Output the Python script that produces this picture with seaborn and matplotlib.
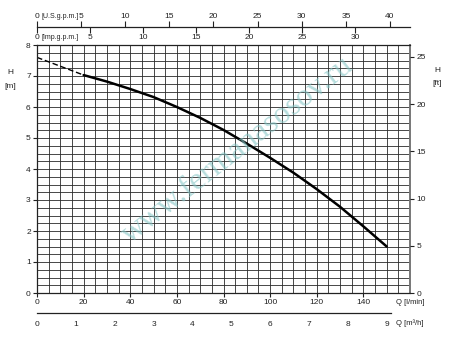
import matplotlib
matplotlib.use("Agg")
import matplotlib.pyplot as plt
import matplotlib.transforms as mtransforms
from matplotlib.ticker import MultipleLocator
import seaborn as sns
import pandas as pd

# ---- data ----
q_solid = [20, 30, 40, 50, 60, 70, 80, 90, 100, 110, 120, 130, 140, 150]
h_solid = [7.03, 6.82, 6.58, 6.32, 6.0, 5.65, 5.26, 4.82, 4.36, 3.88, 3.35, 2.78, 2.15, 1.5]
q_dash = [0, 20]
h_dash = [7.6, 7.03]

q_ticks = [0, 20, 40, 60, 80, 100, 120, 140]
h_ticks = [0, 1, 2, 3, 4, 5, 6, 7, 8]
ft_ticks = [0, 5, 10, 15, 20, 25]
us_ticks = [0, 5, 10, 15, 20, 25, 30, 35, 40]
imp_ticks = [0, 5, 10, 15, 20, 25, 30]
m3h_ticks = [0, 1, 2, 3, 4, 5, 6, 7, 8, 9]

US_GAL = 3.78541
IMP_GAL = 4.54609
FT = 0.3048

sns.set_style("white")
plt.rcParams['font.family'] = ['Liberation Sans', 'DejaVu Sans']
FS = 6
FS_S = 5

W_PX, H_PX = 450, 339
fig = plt.figure(figsize=(W_PX / 100, H_PX / 100), dpi=100)

def fx(px):
    return px / W_PX

def fy(py):
    return 1 - py / H_PX

L, R, T, B = 37, 410, 45, 293
ax = fig.add_axes([fx(L), fy(B), fx(R - L), (B - T) / H_PX])
ax.set_xlim(0, 160)
ax.set_ylim(0, 8)
ax.set_xticks(q_ticks)
ax.set_yticks(h_ticks)
ax.xaxis.set_minor_locator(MultipleLocator(5))
ax.yaxis.set_minor_locator(MultipleLocator(0.25))
ax.grid(which='both', color='#2a2a2a', lw=0.6)
ax.set_axisbelow(True)
ax.tick_params(which='major', direction='out', length=3, width=0.8, pad=1.5,
               labelsize=FS, colors='#222222', bottom=True, left=True)
ax.tick_params(which='minor', length=0)
for s in ax.spines.values():
    s.set_color('#222222')
    s.set_linewidth(0.9)
ax.spines['right'].set_color('#777777')
ax.spines['right'].set_linewidth(1.4)

df_s = pd.DataFrame({'Q': q_solid, 'H': h_solid})
df_d = pd.DataFrame({'Q': q_dash, 'H': h_dash})
sns.lineplot(data=df_s, x='Q', y='H', ax=ax, color='black', lw=1.8)
sns.lineplot(data=df_d, x='Q', y='H', ax=ax, color='black', lw=1.0, linestyle=(0, (4, 2)))
ax.set_xlabel('')
ax.set_ylabel('')

# right ft axis
ax2 = ax.twinx()
ax2.set_ylim(0, 8 / FT)
ax2.set_yticks(ft_ticks)
ax2.grid(False)
ax2.tick_params(direction='out', length=3, width=0.8, pad=1.5, labelsize=FS,
                colors='#222222')
for s in ax2.spines.values():
    s.set_visible(False)

# top gpm scales
ytop = 27
axu = fig.add_axes([fx(L), fy(ytop), fx(R - L), 1e-5])
axu.patch.set_visible(False)
axu.set_xlim(0, 160)
axu.set_yticks([])
for k, s in axu.spines.items():
    s.set_visible(k == 'bottom')
axu.spines['bottom'].set_color('#222222')
axu.spines['bottom'].set_linewidth(0.9)
axu.xaxis.set_ticks_position('top')
axu.set_xticks([u * US_GAL for u in us_ticks])
axu.set_xticklabels(['0'] + [str(u) for u in us_ticks[1:]])
axu.tick_params(axis='x', direction='out', length=4, width=0.8, pad=1, labelsize=FS,
                colors='#222222', top=True, labeltop=True, bottom=False, labelbottom=False)

axi = fig.add_axes([fx(L), fy(ytop), fx(R - L), 1e-5])
axi.patch.set_visible(False)
axi.set_xlim(0, 160)
axi.set_yticks([])
for s in axi.spines.values():
    s.set_visible(False)
axi.set_xticks([u * IMP_GAL for u in imp_ticks])
axi.set_xticklabels(['0'] + [str(u) for u in imp_ticks[1:]])
axi.tick_params(axis='x', direction='out', length=4, width=0.8, pad=1, labelsize=FS,
                colors='#222222', top=False, labeltop=False, bottom=True, labelbottom=True)

fig.text(fx(41), fy(16), '[U.S.g.p.m.]', ha='left', va='center', fontsize=FS_S, color='#222222')
fig.text(fx(41), fy(37.5), '[Imp.g.p.m.]', ha='left', va='center', fontsize=FS_S, color='#222222')

# bottom m3/h scale
ybot = 313
axm = fig.add_axes([fx(L), fy(ybot), fx(R - L), 1e-5])
axm.patch.set_visible(False)
axm.set_xlim(0, 160)
axm.set_yticks([])
for k, s in axm.spines.items():
    s.set_visible(k == 'top')
axm.spines['top'].set_color('#222222')
axm.spines['top'].set_linewidth(0.9)
axm.spines['top'].set_bounds(0, 152)
axm.set_xticks([m * 1000 / 60 for m in m3h_ticks])
axm.set_xticklabels([str(m) for m in m3h_ticks])
axm.tick_params(axis='x', direction='out', length=4, width=0.8, pad=1.5, labelsize=FS,
                colors='#222222')

# axis titles
fig.text(fx(10), fy(73), 'H', ha='center', va='center', fontsize=FS, color='#222222')
fig.text(fx(10), fy(86), '[m]', ha='center', va='center', fontsize=FS, color='#222222')
fig.text(fx(437), fy(71), 'H', ha='center', va='center', fontsize=FS, color='#222222')
fig.text(fx(437), fy(84), '[ft]', ha='center', va='center', fontsize=FS, color='#222222')
fig.text(fx(396), fy(302), 'Q [l/min]', ha='left', va='center', fontsize=FS_S + 0.5, color='#222222')
fig.text(fx(396), fy(323), 'Q [m³/h]', ha='left', va='center', fontsize=FS_S + 0.5, color='#222222')

# watermark
fig.text(fx(238), fy(150), 'www.fermanasosov.ru', rotation=38, ha='center', va='center',
         fontsize=23, family=['Liberation Serif', 'DejaVu Serif'], color='#86c6c6',
         alpha=0.6, zorder=10)

fig.savefig('out.png', dpi=100, facecolor='white')
